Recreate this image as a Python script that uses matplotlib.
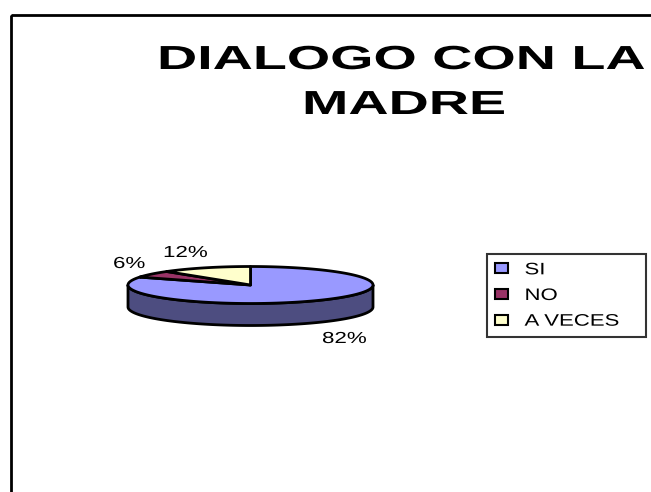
import matplotlib
matplotlib.use("Agg")
import matplotlib.pyplot as plt
import numpy as np
from matplotlib.patches import Polygon, Rectangle, Patch
from matplotlib.patheffects import AbstractPathEffect
from matplotlib.transforms import Affine2D

# Data
labels = ["SI", "NO", "A VECES"]
values = [82, 6, 12]
title_lines = ["DIALOGO CON LA", "MADRE"]

# Colors (old Excel palette)
top_colors = ["#9999FF", "#993366", "#FFFFCC"]
side_colors = ["#4D4D80", "#4D1A33", "#808066"]

# Layout, in pixels (y down)
W, H = 651, 492
cx, cy, rx, ry, depth = 250.5, 285.0, 122.5, 18.5, 22.0
pct_pos = [(322, 343), (113, 268), (163, 257)]  # left x, baseline y


class StretchX(AbstractPathEffect):
    """Draw text wider than the font, like the stretched Excel export."""

    def __init__(self, sx):
        super().__init__()
        self.sx = sx

    def draw_path(self, renderer, gc, tpath, affine, rgbFace=None):
        renderer.draw_path(gc, tpath, Affine2D().scale(self.sx, 1) + affine, rgbFace)


def ell(theta, dy=0.0):
    # theta in degrees, clockwise from 12 o'clock
    t = np.radians(theta)
    return np.column_stack([cx + rx * np.sin(t), cy - ry * np.cos(t) + dy])


fig = plt.figure(figsize=(W / 100, H / 100), dpi=100)
ax = fig.add_axes([0, 0, 1, 1])
ax.set_xlim(0, W)
ax.set_ylim(H, 0)
ax.axis("off")

# outer chart frame (runs off the right and bottom edges)
ax.add_patch(Rectangle((10.5, 15), 800, 600, fill=False, edgecolor="black", linewidth=2))

# wedge angles
fracs = np.array(values, dtype=float) / np.sum(values)
ends = np.cumsum(fracs) * 360
starts = ends - fracs * 360

# side walls: only the front half (90..270 deg) is visible
for a0, a1, c in zip(starts, ends, side_colors):
    s0, s1 = max(a0, 90), min(a1, 270)
    if s1 <= s0:
        continue
    th = np.linspace(s0, s1, 120)
    pts = np.vstack([ell(th), ell(th[::-1], depth)])
    ax.add_patch(Polygon(pts, closed=True, facecolor=c, edgecolor="black",
                         linewidth=2, joinstyle="round"))

# top faces
for a0, a1, c in zip(starts, ends, top_colors):
    th = np.linspace(a0, a1, 200)
    pts = np.vstack([[cx, cy], ell(th)])
    ax.add_patch(Polygon(pts, closed=True, facecolor=c, edgecolor="black",
                         linewidth=2, joinstyle="round"))

# percentage labels
for v, (x, y) in zip(values, pct_pos):
    t = ax.text(x, y, f"{v}%", fontsize=11.5, family="Liberation Sans",
                ha="left", va="baseline")
    t.set_path_effects([StretchX(1.4)])

# title
t1 = ax.text(157, 69, title_lines[0], fontsize=24, fontweight="bold",
             family="Liberation Sans", ha="left", va="baseline")
t2 = ax.text(302, 114, title_lines[1], fontsize=24, fontweight="bold",
             family="Liberation Sans", ha="left", va="baseline")
for t in (t1, t2):
    t.set_path_effects([StretchX(1.67)])

# legend
handles = [Patch(facecolor=c, edgecolor="black", linewidth=1.5) for c in top_colors]
leg = ax.legend(handles, labels, loc="upper left",
                bbox_to_anchor=(487 / W, 1 - 254 / H, (646 - 487) / W, 0),
                bbox_transform=fig.transFigure, mode="expand",
                prop={"family": "Liberation Sans", "size": 12},
                handlelength=0.75, handleheight=0.55, handletextpad=1.0,
                labelspacing=0.64, borderpad=0.5, borderaxespad=0,
                frameon=True, fancybox=False)
leg.get_frame().set_edgecolor("black")
leg.get_frame().set_linewidth(1.5)
for t in leg.get_texts():
    t.set_path_effects([StretchX(1.33)])

fig.savefig("out.png", dpi=100)
